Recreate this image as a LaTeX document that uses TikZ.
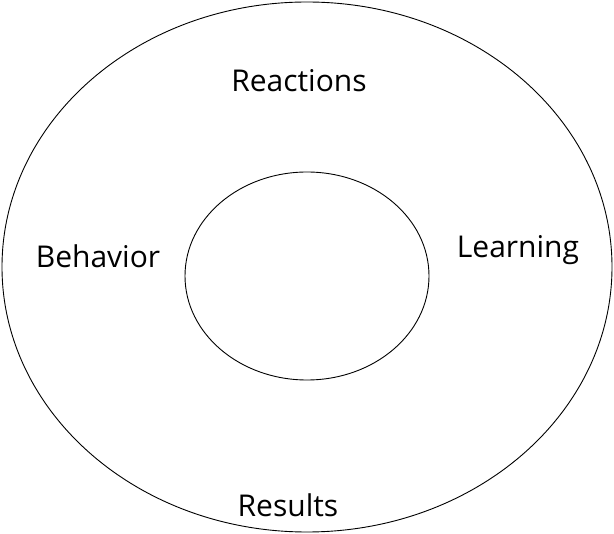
\documentclass[tikz,border=0pt]{standalone}
\usepackage{fontspec}
\setmainfont{Open Sans}
\tikzset{
  ring/.style={draw=black,line width=0.9pt},
  level/.style={font=\fontsize{30}{36}\selectfont,inner sep=0pt,anchor=base}
}

\begin{document}
\begin{tikzpicture}[x=1pt,y=-1pt]
\useasboundingbox (0,0) rectangle (614,534);

\coordinate (O) at (307,267);
\coordinate (I) at (307,276);

\draw[ring] (O) ellipse [x radius=305,y radius=265];
\draw[ring] (I) ellipse [x radius=122,y radius=104];

\node[level] (reactions) at (299,92) {Reactions};
\node[level] (behavior) at (98,268) {Behavior};
\node[level] (learning) at (518,258) {Learning};
\node[level] (results) at (288,517) {Results};

\end{tikzpicture}
\end{document}
